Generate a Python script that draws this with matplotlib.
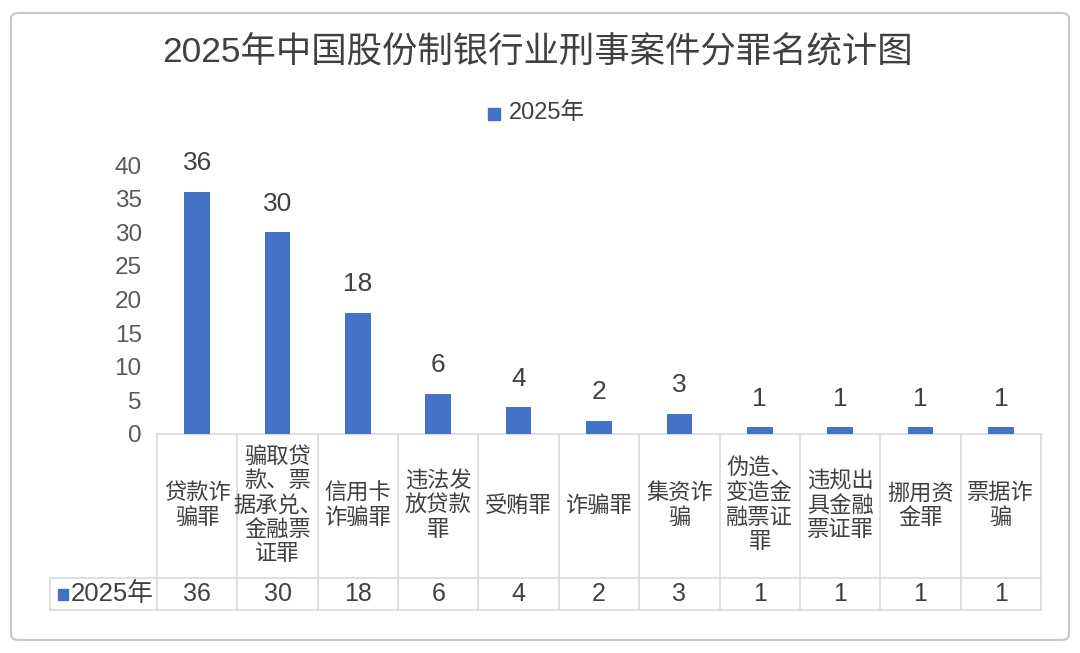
import matplotlib
matplotlib.use('Agg')
import matplotlib.pyplot as plt
import matplotlib.transforms as mtransforms
from matplotlib.patches import FancyBboxPatch, Rectangle
import numpy as np

# latin digits from Liberation Sans, CJK falls back to Noto
plt.rcParams['font.family'] = ['Liberation Sans', 'Noto Sans CJK SC', 'DejaVu Sans']

title = '2025年中国股份制银行业刑事案件分罪名统计图'
series_name = '2025年'
categories = [
    '贷款诈\n骗罪',
    '骗取贷\n款、票\n据承兑、\n金融票\n证罪',
    '信用卡\n诈骗罪',
    '违法发\n放贷款\n罪',
    '受贿罪',
    '诈骗罪',
    '集资诈\n骗',
    '伪造、\n变造金\n融票证\n罪',
    '违规出\n具金融\n票证罪',
    '挪用资\n金罪',
    '票据诈\n骗',
]
values = [36, 30, 18, 6, 4, 2, 3, 1, 1, 1, 1]
yticks = [0, 5, 10, 15, 20, 25, 30, 35, 40]

W, H = 1080, 653
bar_color = '#4472C4'
text_color = '#404040'
grid_color = '#D9D9D9'

fig = plt.figure(figsize=(W / 100, H / 100), dpi=100)

# plot area in pixels
x0, x1 = 157, 1041
y_base, y_top = 434, 165
ax = fig.add_axes([x0 / W, (H - y_base) / H, (x1 - x0) / W, (y_base - y_top) / H])

n = len(categories)
x = np.arange(n)
ax.bar(x, values, width=0.32, color=bar_color, zorder=3)
ax.set_xlim(-0.5, n - 0.5)
ax.set_ylim(0, 40)
ax.set_yticks(yticks)
ax.tick_params(axis='y', length=0, pad=11, labelsize=17.5, labelcolor='#595959')
ax.set_xticks([])
for s in ax.spines.values():
    s.set_visible(False)

for xi, v in zip(x, values):
    ax.annotate(str(v), (xi, v), xytext=(0, 20.5), textcoords='offset points',
                ha='center', va='center', fontsize=19, color=text_color,
                annotation_clip=False)

# data table below the plot
ax_h = y_base - y_top
def ay(py):
    return (y_base - py) / ax_h

trans = mtransforms.blended_transform_factory(ax.transData, ax.transAxes)
row1, row2 = ay(578), ay(610)
lw = 1.2
# horizontal lines
ax.plot([-0.5, n - 0.5], [0, 0], transform=trans, color=grid_color, lw=lw, clip_on=False, zorder=2)
left_x = -0.5 - (x0 - 50) / ((x1 - x0) / n)
for yy in (row1, row2):
    ax.plot([left_x, n - 0.5], [yy, yy], transform=trans, color=grid_color, lw=lw, clip_on=False)
# vertical lines
for b in np.arange(n + 1) - 0.5:
    ax.plot([b, b], [0, row2], transform=trans, color=grid_color, lw=lw, clip_on=False)
ax.plot([left_x, left_x], [row1, row2], transform=trans, color=grid_color, lw=lw, clip_on=False)

cat_y = ay(506)
val_y = ay(594)
for xi, c, v in zip(x, categories, values):
    ax.text(xi, cat_y, c, transform=trans, ha='center', va='center', fontsize=16,
            color=text_color, linespacing=1.2)
    ax.text(xi, val_y, str(v), transform=trans, ha='center', va='center', fontsize=18,
            color=text_color)

# legend key inside table
fig.patches.append(Rectangle((58 / W, (H - 600) / H), 10 / W, 11 / H, transform=fig.transFigure,
                             color=bar_color))
fig.text(71 / W, (H - 594) / H, series_name, ha='left', va='center', fontsize=18.5, color=text_color)

# top legend
fig.patches.append(Rectangle((488 / W, (H - 120) / H), 12 / W, 12 / H, transform=fig.transFigure,
                             color=bar_color))
fig.text(509 / W, (H - 113) / H, series_name, ha='left', va='center', fontsize=17, color=text_color)

fig.text(538 / W, (H - 53) / H, title, ha='center', va='center', fontsize=25.5, color=text_color)

# chart border
fig.patches.append(FancyBboxPatch((11 / W, 13 / H), 1058 / W, 627 / H,
                                  boxstyle='round,pad=0,rounding_size=0.008',
                                  transform=fig.transFigure, fill=False,
                                  edgecolor='#C8C8C8', lw=1.5))

fig.savefig('out.png', dpi=100)
